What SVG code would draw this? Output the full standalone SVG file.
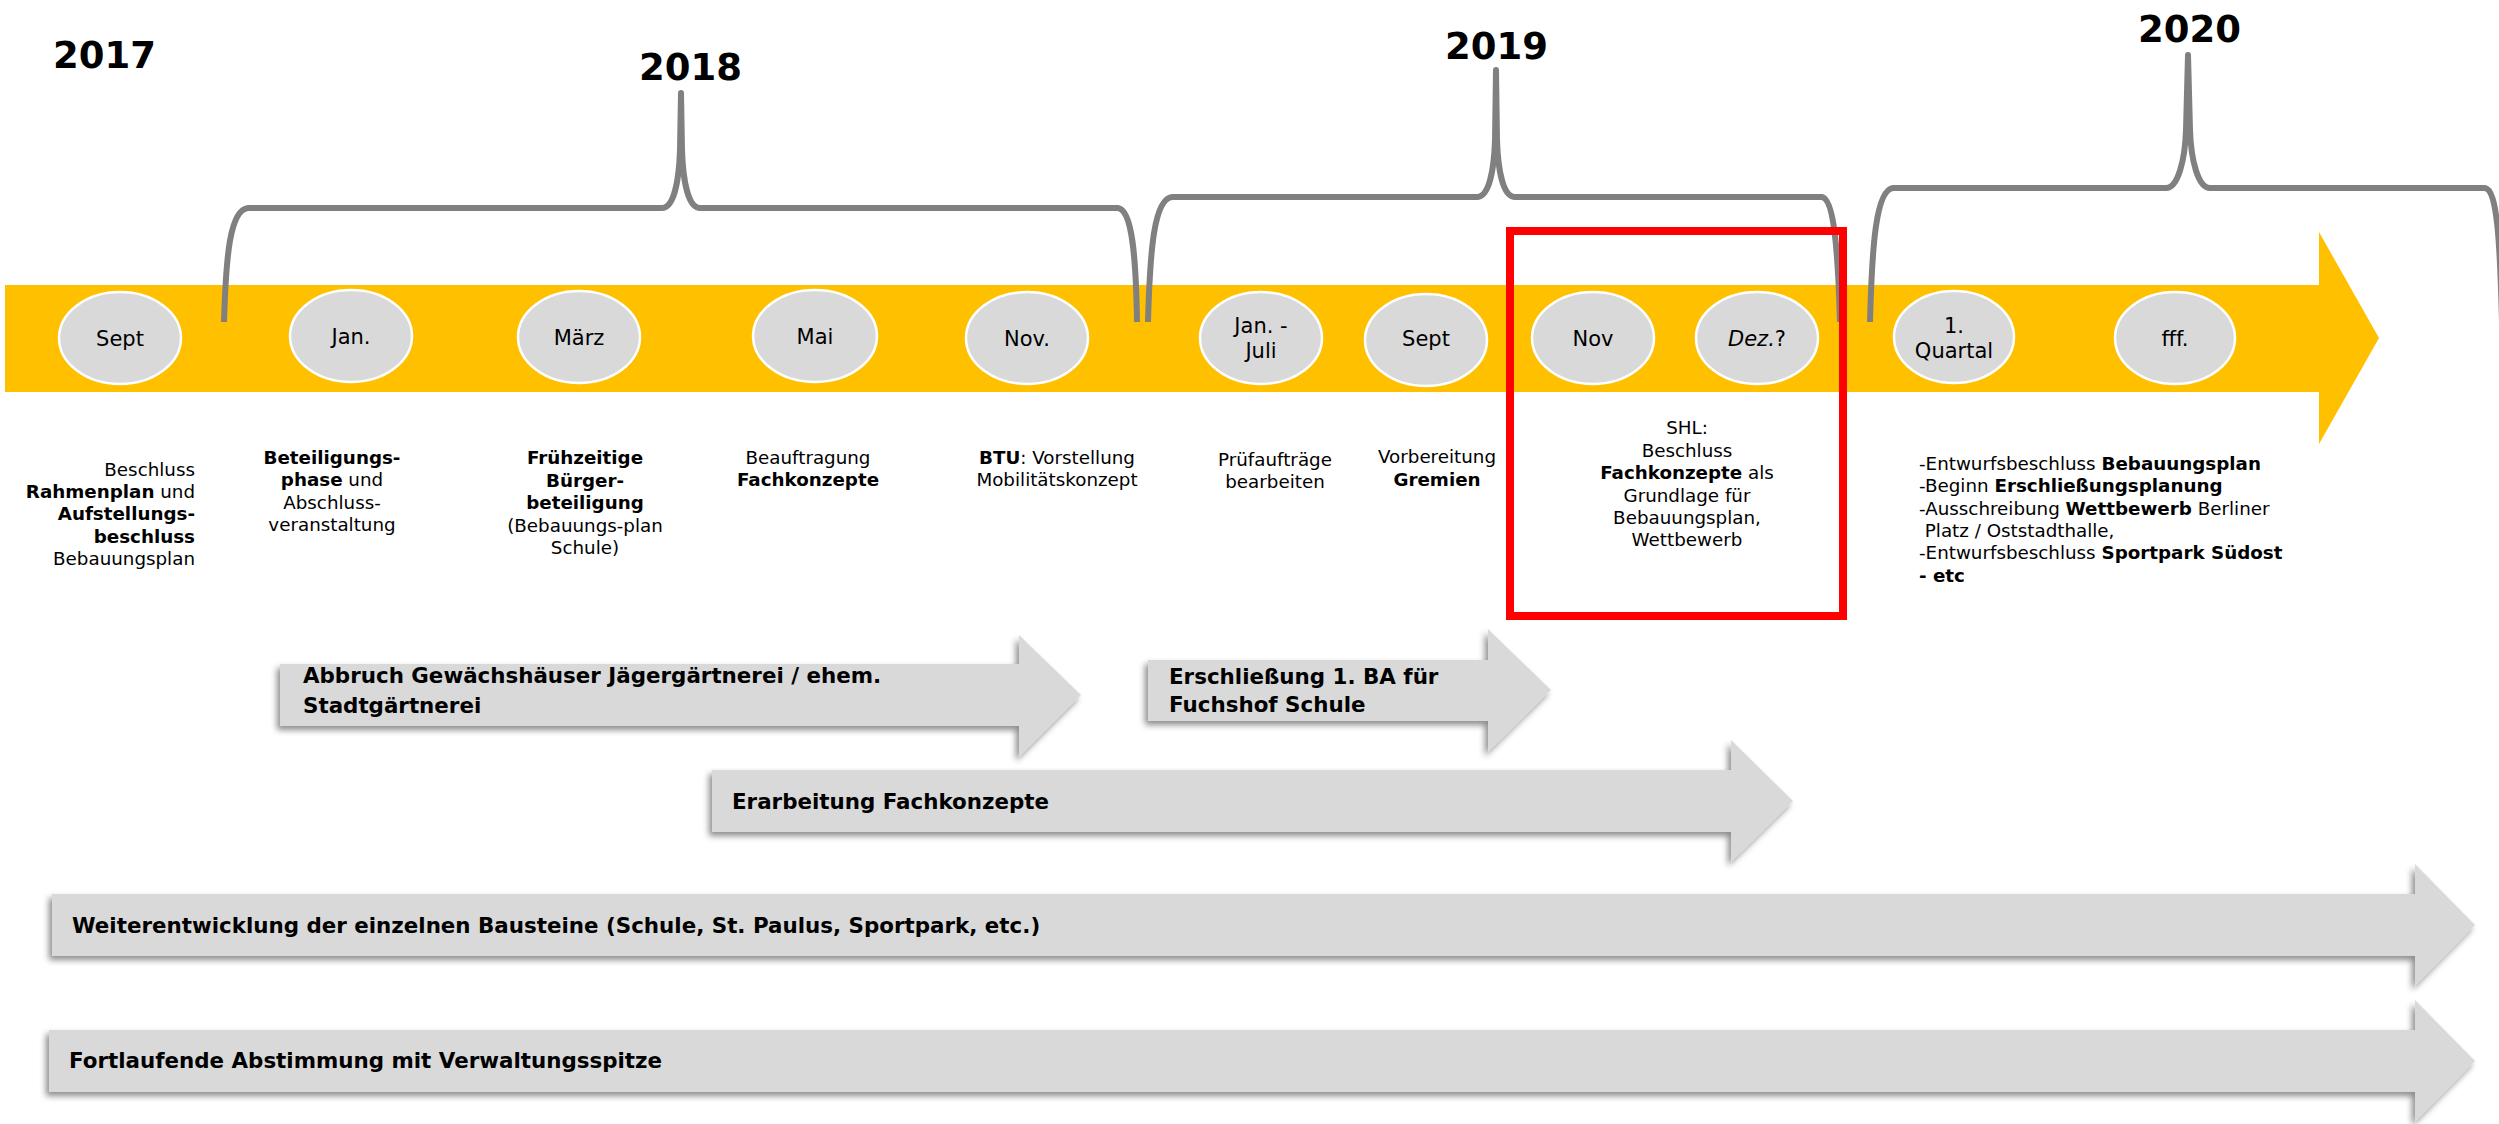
<svg xmlns="http://www.w3.org/2000/svg" width="2499" height="1124" viewBox="0 0 2499 1124">
<defs>
<style>
.yr{font-family:"DejaVu Sans","Verdana",sans-serif;font-weight:bold;font-size:37px;fill:#000}
.brace{fill:none;stroke:#808080;stroke-width:6;stroke-linejoin:round}
.ell{fill:#d9d9d9;stroke:#fff;stroke-width:2.5}
.ct{font-family:"DejaVu Sans","Verdana",sans-serif;font-size:21px;fill:#000;text-anchor:middle}
.lb{font-family:"DejaVu Sans","Verdana",sans-serif;font-size:18.3px;fill:#000}
.c{text-anchor:middle}
.e{text-anchor:end}
.b{font-weight:bold}
.ga{fill:#d9d9d9;filter:url(#sh)}
.at{font-family:"DejaVu Sans","Verdana",sans-serif;font-size:21.4px;font-weight:bold;fill:#000}
</style>
<filter id="sh" x="-5%" y="-30%" width="110%" height="160%">
<feDropShadow dx="-3" dy="4" stdDeviation="3" flood-color="#000" flood-opacity="0.45"/>
</filter>
</defs>

<g id="timeline">
<polygon points="5,285 2319,285 2319,232 2379,338 2319,444 2319,392 5,392" fill="#ffc000"/>
</g>

<g id="years">
<text class="yr" x="53" y="68">2017</text>
<text class="yr" x="639" y="80">2018</text>
<text class="yr" x="1445" y="59">2019</text>
<text class="yr" x="2138" y="42">2020</text>
</g>

<g id="connectors">
<path class="brace" d="M224,322 C226,255 230,210 248,208 L662,208 C674,208 679,180 680,150 L681,93 L682,150 C683,180 688,208 700,208 L1118,208 C1132,210 1136,255 1137,322"/>
<path class="brace" d="M1148,322 C1150,250 1154,199 1172,197 L1477,197 C1489,197 1494,170 1495,140 L1496,70 L1497,140 C1498,170 1503,197 1515,197 L1822,197 C1834,199 1838,250 1840,322"/>
<path class="brace" d="M1870,322 C1872,245 1876,190 1893,188 L2166,188 C2178,188 2185,160 2186,130 L2188,55 L2190,130 C2191,160 2198,188 2210,188 L2485,188 C2497,190 2500,240 2502,322"/>
</g>

<g id="months">
<g id="m-sept17"><ellipse class="ell" cx="120" cy="338" rx="61" ry="46"/><text class="ct" x="120" y="346">Sept</text></g>
<g id="m-jan18"><ellipse class="ell" cx="351" cy="336" rx="61" ry="46"/><text class="ct" x="351" y="344">Jan.</text></g>
<g id="m-maerz"><ellipse class="ell" cx="579" cy="337" rx="61" ry="46"/><text class="ct" x="579" y="345">März</text></g>
<g id="m-mai"><ellipse class="ell" cx="815" cy="336" rx="62" ry="46"/><text class="ct" x="815" y="344">Mai</text></g>
<g id="m-nov18"><ellipse class="ell" cx="1027" cy="338" rx="61" ry="46"/><text class="ct" x="1027" y="346">Nov.</text></g>
<g id="m-janjuli"><ellipse class="ell" cx="1261" cy="338" rx="61" ry="46"/><text class="ct" x="1261" y="333">Jan. -</text><text class="ct" x="1261" y="358">Juli</text></g>
<g id="m-sept19"><ellipse class="ell" cx="1426" cy="340" rx="61" ry="46"/><text class="ct" x="1426" y="346">Sept</text></g>
<g id="m-nov19"><ellipse class="ell" cx="1593" cy="338" rx="61" ry="46"/><text class="ct" x="1593" y="346">Nov</text></g>
<g id="m-dez"><ellipse class="ell" cx="1757" cy="338" rx="61" ry="46"/><text class="ct" x="1757" y="346"><tspan font-style="italic">Dez.</tspan>?</text></g>
<g id="m-q1"><ellipse class="ell" cx="1954" cy="337" rx="60" ry="46"/><text class="ct" x="1954" y="333">1.</text><text class="ct" x="1954" y="358">Quartal</text></g>
<g id="m-fff"><ellipse class="ell" cx="2175" cy="338" rx="60" ry="46"/><text class="ct" x="2175" y="346">fff.</text></g>
</g>

<g id="labels">
<g id="l1">
<text class="lb e" x="195" y="476">Beschluss</text>
<text class="lb e" x="195" y="498"><tspan class="b">Rahmenplan</tspan> und</text>
<text class="lb e b" x="195" y="520">Aufstellungs-</text>
<text class="lb e b" x="195" y="543">beschluss</text>
<text class="lb e" x="195" y="565">Bebauungsplan</text>
</g>
<g id="l2">
<text class="lb c b" x="332" y="464">Beteiligungs-</text>
<text class="lb c" x="332" y="486"><tspan class="b">phase</tspan> und</text>
<text class="lb c" x="332" y="509">Abschluss-</text>
<text class="lb c" x="332" y="531">veranstaltung</text>
</g>
<g id="l3">
<text class="lb c b" x="585" y="464">Frühzeitige</text>
<text class="lb c b" x="585" y="487">Bürger-</text>
<text class="lb c b" x="585" y="509">beteiligung</text>
<text class="lb c" x="585" y="532">(Bebauungs-plan</text>
<text class="lb c" x="585" y="554">Schule)</text>
</g>
<g id="l4">
<text class="lb c" x="808" y="464">Beauftragung</text>
<text class="lb c b" x="808" y="486">Fachkonzepte</text>
</g>
<g id="l5">
<text class="lb c" x="1057" y="464"><tspan class="b">BTU</tspan>: Vorstellung</text>
<text class="lb c" x="1057" y="486">Mobilitätskonzept</text>
</g>
<g id="l6">
<text class="lb c" x="1275" y="466">Prüfaufträge</text>
<text class="lb c" x="1275" y="488">bearbeiten</text>
</g>
<g id="l7">
<text class="lb c" x="1437" y="463">Vorbereitung</text>
<text class="lb c b" x="1437" y="486">Gremien</text>
</g>
<g id="l8">
<text class="lb c" x="1687" y="434">SHL:</text>
<text class="lb c" x="1687" y="457">Beschluss</text>
<text class="lb c" x="1687" y="479"><tspan class="b">Fachkonzepte</tspan> als</text>
<text class="lb c" x="1687" y="502">Grundlage für</text>
<text class="lb c" x="1687" y="524">Bebauungsplan,</text>
<text class="lb c" x="1687" y="546">Wettbewerb</text>
</g>
<g id="l9">
<text class="lb" x="1919" y="470">-Entwurfsbeschluss <tspan class="b">Bebauungsplan</tspan></text>
<text class="lb" x="1919" y="492">-Beginn <tspan class="b">Erschließungsplanung</tspan></text>
<text class="lb" x="1919" y="515">-Ausschreibung <tspan class="b">Wettbewerb</tspan> Berliner</text>
<text class="lb" x="1919" y="537" xml:space="preserve"> Platz / Oststadthalle,</text>
<text class="lb" x="1919" y="559">-Entwurfsbeschluss <tspan class="b">Sportpark Südost</tspan></text>
<text class="lb b" x="1919" y="582">- etc</text>
</g>
</g>

<g id="highlight">
<rect x="1510" y="231" width="333" height="385" fill="none" stroke="#ff0000" stroke-width="8"/>
</g>

<g id="phases">
<g id="p-abbruch">
<polygon class="ga" points="280,664 1019,664 1019,635 1081,695 1019,757 1019,726 280,726"/>
<text class="at" x="303" y="683">Abbruch Gewächshäuser Jägergärtnerei / ehem.</text>
<text class="at" x="303" y="713">Stadtgärtnerei</text>
</g>
<g id="p-erschliessung">
<polygon class="ga" points="1148,660 1488,660 1488,629 1551,690 1488,752 1488,721 1148,721"/>
<text class="at" x="1169" y="684">Erschließung 1. BA für</text>
<text class="at" x="1169" y="712">Fuchshof Schule</text>
</g>
<g id="p-erarbeitung">
<polygon class="ga" points="712,770 1731,770 1731,740 1793,801 1731,862 1731,832 712,832"/>
<text class="at" x="732" y="809">Erarbeitung Fachkonzepte</text>
</g>
<g id="p-weiter">
<polygon class="ga" points="52,894 2415,894 2415,864 2475,925 2415,986 2415,956 52,956"/>
<text class="at" x="72" y="933">Weiterentwicklung der einzelnen Bausteine (Schule, St. Paulus, Sportpark, etc.)</text>
</g>
<g id="p-fortlaufend">
<polygon class="ga" points="49,1030 2415,1030 2415,1000 2475,1061 2415,1122 2415,1092 49,1092"/>
<text class="at" x="69" y="1068">Fortlaufende Abstimmung mit Verwaltungsspitze</text>
</g>
</g>
</svg>
